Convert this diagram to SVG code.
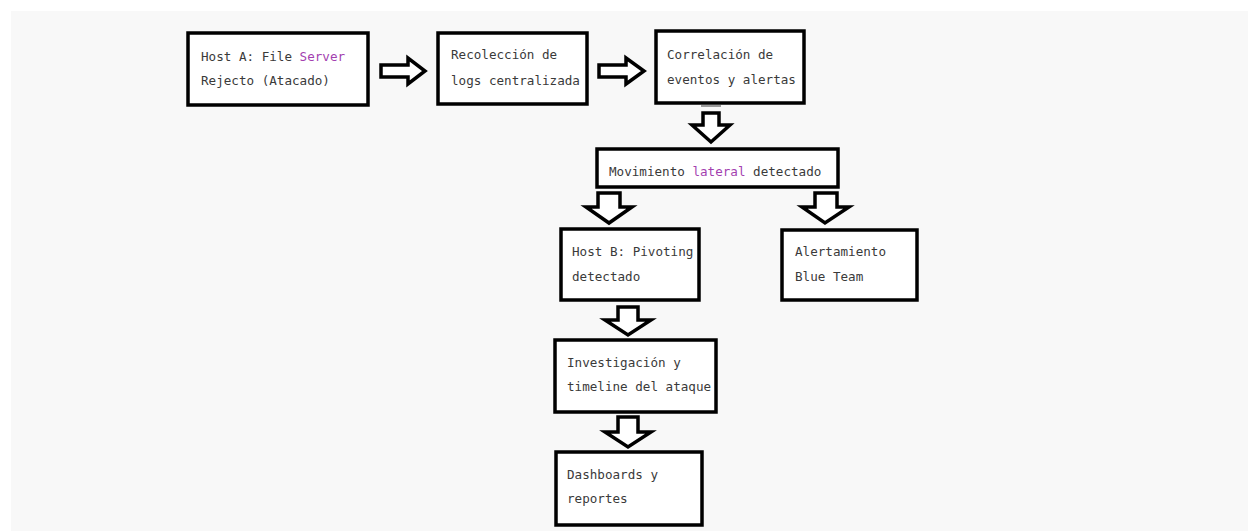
<svg xmlns="http://www.w3.org/2000/svg" width="1248" height="531" viewBox="0 0 1248 531">
  <style>
    .box { fill: #ffffff; stroke: #000000; stroke-width: 3.5; }
    .arrow { fill: #ffffff; stroke: #000000; stroke-width: 3.5; stroke-linejoin: miter; }
    .lbl { font-family: "DejaVu Sans Mono", "Liberation Mono", monospace; font-size: 12.6px; fill: #3a3a3a; }
    .hl { fill: #a33fb0; }
  </style>

  <!-- page background -->
  <rect x="0" y="0" width="1248" height="531" fill="#ffffff"/>
  <rect x="11" y="11" width="1237" height="520" fill="#f8f8f8"/>

  <!-- connectors: outlined block arrows -->
  <g id="connectors">
    <polygon class="arrow" points="381,65 408,65 408,58 425,71 408,84 408,77 381,77"/>
    <polygon class="arrow" points="599,65 626,65 626,58 644,71 626,84 626,77 599,77"/>
    <line x1="701" y1="106" x2="721" y2="106" stroke="#9a9a9a" stroke-width="2"/>
    <polygon class="arrow" points="703,113 719,113 719,125 730,125 711,142 692,125 703,125"/>
    <polygon class="arrow" points="598,193 620,193 620,207 632,207 609,223 586,207 598,207"/>
    <polygon class="arrow" points="815,193 837,193 837,207 849,207 825,223 802,207 815,207"/>
    <polygon class="arrow" points="618,307 638,307 638,320 651,320 628,335 605,320 618,320"/>
    <polygon class="arrow" points="618,417 638,417 638,432 651,432 628,447 605,432 618,432"/>
  </g>

  <g id="host-a">
    <rect class="box" x="188" y="33" width="180" height="72"/>
    <text class="lbl" x="201" y="61">Host A: File <tspan class="hl">Server</tspan></text>
    <text class="lbl" x="201" y="85">Rejecto (Atacado)</text>
  </g>

  <g id="recoleccion">
    <rect class="box" x="438" y="33" width="149" height="71"/>
    <text class="lbl" x="451" y="59">Recolección de</text>
    <text class="lbl" x="451" y="85">logs centralizada</text>
  </g>

  <g id="correlacion">
    <rect class="box" x="656" y="31" width="148" height="72"/>
    <text class="lbl" x="667" y="59">Correlación de</text>
    <text class="lbl" x="667" y="84">eventos y alertas</text>
  </g>

  <g id="movimiento">
    <rect class="box" x="597" y="149" width="241" height="38"/>
    <text class="lbl" x="609" y="176">Movimiento <tspan class="hl">lateral</tspan> detectado</text>
  </g>

  <g id="host-b">
    <rect class="box" x="561" y="229" width="138" height="71"/>
    <text class="lbl" x="572" y="256">Host B: Pivoting</text>
    <text class="lbl" x="572" y="281">detectado</text>
  </g>

  <g id="alertamiento">
    <rect class="box" x="782" y="230" width="135" height="70"/>
    <text class="lbl" x="795" y="256">Alertamiento</text>
    <text class="lbl" x="795" y="281">Blue Team</text>
  </g>

  <g id="investigacion">
    <rect class="box" x="555" y="340" width="161" height="72"/>
    <text class="lbl" x="567" y="367">Investigación y</text>
    <text class="lbl" x="567" y="391">timeline del ataque</text>
  </g>

  <g id="dashboards">
    <rect class="box" x="556" y="452" width="146" height="73"/>
    <text class="lbl" x="567" y="479">Dashboards y</text>
    <text class="lbl" x="567" y="503">reportes</text>
  </g>
</svg>
